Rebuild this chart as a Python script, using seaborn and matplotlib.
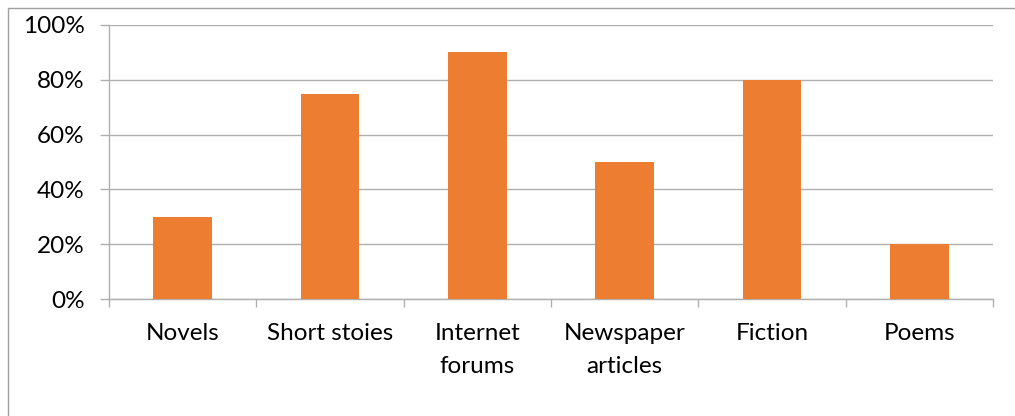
import matplotlib.pyplot as plt
import matplotlib as mpl
from matplotlib.ticker import PercentFormatter, MultipleLocator
import seaborn as sns
import pandas as pd

categories = ["Novels", "Short stoies", "Internet\nforums", "Newspaper\narticles", "Fiction", "Poems"]
shares = [0.30, 0.75, 0.90, 0.50, 0.80, 0.20]

df = pd.DataFrame({"category": categories, "share": shares})

sns.set_style("white")
plt.rcParams["font.family"] = ["Lato", "DejaVu Sans"]

grid_c = "#AFAFAF"

fig = plt.figure(figsize=(10.15, 4.16), dpi=100)
ax = fig.add_axes([109 / 1015, 1 - 299 / 416, (993 - 109) / 1015, (299 - 25) / 416])

sns.barplot(df, x="category", y="share", color="#ED7D31", saturation=1, width=0.4,
            linewidth=0, ax=ax, zorder=3)

ax.set_xlim(-0.5, len(categories) - 0.5)
ax.set_ylim(0, 1)
ax.yaxis.set_major_locator(MultipleLocator(0.2))
ax.yaxis.set_major_formatter(PercentFormatter(1.0, decimals=0))
ax.grid(axis="y", color=grid_c, lw=1.0, zorder=0)
ax.set_axisbelow(True)

# x ticks sit on category boundaries, labels at centres
ax.set_xticks(range(len(categories)), labels=categories)
ax.set_xticks([i - 0.5 for i in range(len(categories) + 1)], minor=True)
ax.tick_params(axis="x", which="major", length=0, pad=17, labelsize=17.5, labelcolor="black")
ax.tick_params(axis="x", which="minor", length=5.8, width=1.0, color=grid_c, direction="out")
ax.tick_params(axis="y", length=6.5, width=1.0, color=grid_c, direction="out", pad=11,
               labelsize=17.5, labelcolor="black")
ax.tick_params(bottom=True, left=True, which="both")
ax.set_xlabel("")
ax.set_ylabel("")

sns.despine(ax=ax, top=True, right=True)
for s in ["left", "bottom"]:
    ax.spines[s].set_color(grid_c)
    ax.spines[s].set_linewidth(1.0)

# chart frame, clipped by the image edge on right and bottom
frame = mpl.patches.Rectangle((8 / 1015, -0.1), 1.2, 1 - 8 / 416 + 0.1, transform=fig.transFigure,
                              fill=False, ec="#A0A0A0", lw=1.0)
fig.add_artist(frame)

fig.canvas.draw()
for lab in ax.get_xticklabels():
    lab.set_linespacing(1.75)

fig.savefig("out.png", dpi=100)
